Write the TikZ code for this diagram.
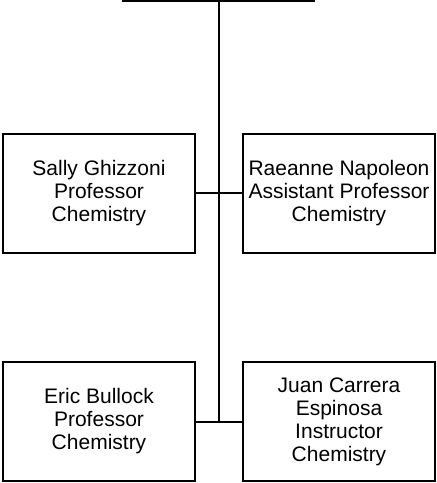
\documentclass[tikz,border=0pt]{standalone}
\usepackage{fontspec}
\setmainfont{Liberation Sans}
\usepackage{xcolor}
\usepackage{tikz}
\usetikzlibrary{positioning}

\begin{document}
\begin{tikzpicture}[
  x=1pt, y=-1pt,
  person/.style={draw=black, line width=2pt, minimum width=192pt,
                 minimum height=119pt, inner sep=0pt, align=center,
                 font=\fontsize{21}{23}\selectfont},
  link/.style={draw=black, line width=2pt}
]
  \useasboundingbox (0,0) rectangle (437,483);

  \node[person] (sally) at (99,193) {
    Sally Ghizzoni\\
    Professor\\
    Chemistry
  };

  \node[person] (raeanne) at (339,193) {
    Raeanne Napoleon\\
    Assistant Professor\\
    Chemistry
  };

  \node[person] (eric) at (99,421.5) {
    Eric Bullock\\
    Professor\\
    Chemistry
  };

  \node[person] (juan) at (339,421.5) {
    Juan Carrera\\
    Espinosa\\
    Instructor\\
    Chemistry
  };

  % Trunk from the top bar
  \coordinate (barleft) at (122,1);
  \coordinate (barright) at (315,1);
  \coordinate (trunktop) at (218.5,1);
  \coordinate (trunkend) at (218.5,421.5);
  \draw[link] (barleft) -- (barright);
  \draw[link] (trunktop) -- (trunkend);

  % Branches to the boxes
  \draw[link] (sally) -- (raeanne);
  \draw[link] (eric) -- (juan);

\end{tikzpicture}
\end{document}
